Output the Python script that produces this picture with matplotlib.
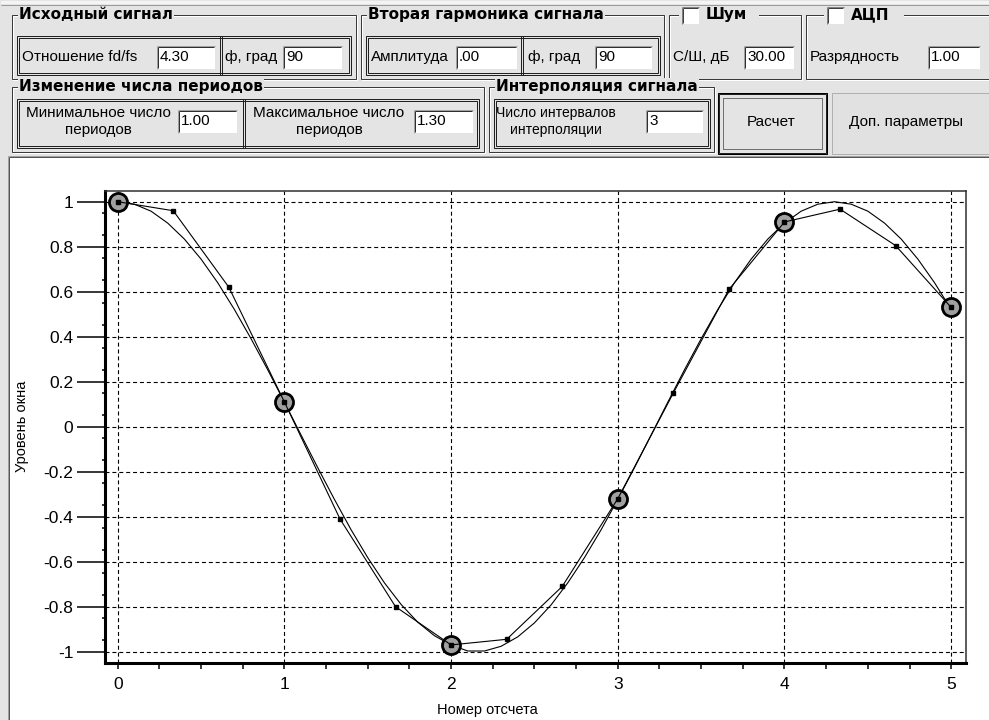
import matplotlib
matplotlib.use('Agg')
import matplotlib.pyplot as plt
import numpy as np
from matplotlib.patches import Rectangle

plt.rcParams['font.family'] = ['Liberation Sans', 'DejaVu Sans']

# ---------------- data ----------------
# true signal (smooth curve), sampled every 0.1 of a sample index
signal_y = [1.0, 0.989, 0.958, 0.905, 0.834, 0.745, 0.640, 0.521, 0.391, 0.253,
            0.109, -0.037, -0.182, -0.323, -0.458, -0.582, -0.694, -0.790, -0.869, -0.929,
            -0.970, -0.997, -0.997, -0.976, -0.934, -0.872, -0.792, -0.694, -0.582, -0.458,
            -0.323, -0.182, -0.037, 0.109, 0.253, 0.391, 0.521, 0.640, 0.745, 0.834,
            0.905, 0.958, 0.989, 1.0, 0.989, 0.958, 0.905, 0.834, 0.745, 0.640, 0.521]
signal_x = np.linspace(0, 5, len(signal_y))

# samples (big circles)
sample_x = [0, 1, 2, 3, 4, 5]
sample_y = [1.0, 0.11, -0.97, -0.32, 0.91, 0.53]

# interpolated signal (3 intervals per sample)
interp_y = [1.0, 0.96, 0.62, 0.11, -0.41, -0.80, -0.97, -0.945, -0.71, -0.32,
            0.15, 0.61, 0.91, 0.967, 0.805, 0.53]
interp_x = np.arange(len(interp_y)) / 3.0

xticks = [0, 1, 2, 3, 4, 5]
yticks = [-1, -0.8, -0.6, -0.4, -0.2, 0, 0.2, 0.4, 0.6, 0.8, 1]
ytick_labels = ['-1', '-0.8', '-0.6', '-0.4', '-0.2', '0', '0.2', '0.4', '0.6', '0.8', '1']
xlabel = 'Номер отсчета'
ylabel = 'Уровень окна'

# ---------------- figure ----------------
W, H = 989, 720
BG = '#e4e4e4'
DARK = '#3a3a3a'
PX = 0.72  # points per pixel at dpi 100

fig = plt.figure(figsize=(W / 100, H / 100), dpi=100, facecolor=BG)
gui = fig.add_axes([0, 0, 1, 1])
gui.set_xlim(0, W)
gui.set_ylim(H, 0)
gui.axis('off')
gui.set_facecolor(BG)

FS = 11
FSB = 11
BOLDFAM = ['DejaVu Sans']


def line(xs, ys, c, lw=1, ls='-', z=2):
    gui.plot([x + 0.5 for x in xs], [y + 0.5 for y in ys], color=c, lw=lw * PX, ls=ls,
             solid_capstyle='butt', zorder=z)


def box(x0, y0, x1, y1, ec='none', fc='none', lw=1, z=2, ls='-'):
    gui.add_patch(Rectangle((x0 + 0.5, y0 + 0.5), x1 - x0, y1 - y0,
                            facecolor=fc, edgecolor=ec, lw=lw * PX, zorder=z, ls=ls,
                            fill=(fc != 'none')))


def text(x, y, s, ha='left', fs=None, z=5):
    gui.text(x, y, s, ha=ha, va='center', fontsize=fs or FS, color='black', zorder=z)


def btitle(x, y, s, bbox=True):
    kw = {}
    if bbox:
        kw['bbox'] = dict(boxstyle='square,pad=0.08', fc=BG, ec='none')
    gui.text(x, y, s, ha='left', va='center', fontsize=FSB, fontweight='bold',
             family=BOLDFAM, zorder=5, **kw)


def groupbox(x0, y0, x1, y1, title, tx, check=None):
    box(x0, y0, x1 - 1, y1 - 1, ec=DARK)
    box(x0 + 1, y0 + 1, x1, y1, ec='white', z=1.9)
    if check is None:
        btitle(tx, y0 + 0.5, title)
    else:
        cx = check
        box(cx - 3, y0 - 9, tx + 52, y0 + 8, fc=BG, z=3)
        box(cx, y0 - 8, cx + 17, y0 + 9, fc='white', ec='none', z=4)
        line([cx, cx + 17], [y0 - 8, y0 - 8], '#808080', z=4.5)
        line([cx, cx], [y0 - 8, y0 + 9], '#808080', z=4.5)
        line([cx + 1, cx + 16], [y0 - 7, y0 - 7], '#404040', z=4.5)
        line([cx + 1, cx + 1], [y0 - 7, y0 + 8], '#404040', z=4.5)
        btitle(tx, y0 + 0.5, title, bbox=False)


def dbox(x0, y0, x1, y1):
    box(x0, y0, x1, y1, ec='#202020')
    box(x0 + 2, y0 + 2, x1 - 2, y1 - 2, ec='#202020')


def vsep(x, y0, y1):
    line([x, x], [y0, y1], '#202020')
    line([x + 2, x + 2], [y0, y1], '#202020')


def field(x0, y0, x1, y1, s):
    box(x0, y0, x1, y1, fc='white', z=3)
    line([x0, x1], [y0, y0], '#a0a0a0', z=3.5)
    line([x0, x0], [y0, y1], '#a0a0a0', z=3.5)
    line([x0 + 1, x1 - 1], [y0 + 1, y0 + 1], '#303030', z=3.5)
    line([x0 + 1, x0 + 1], [y0 + 1, y1 - 1], '#303030', z=3.5)
    text(x0 + 4, (y0 + y1) / 2 + 0.5, s)


# top strip
box(0, 0, W, 3, fc='#f4f4f4', z=1)
line([0, W], [4, 4], '#9a9a9a')

# ---- row 1 ----
groupbox(11, 14, 356, 79, 'Исходный сигнал', 19)
dbox(16, 35, 350, 74)
vsep(219, 35, 74)
text(22, 57, 'Отношение fd/fs')
field(156, 45, 214, 68, '4.30')
text(225, 57, 'ф, град')
field(282, 45, 341, 68, '90')

groupbox(360, 14, 664, 79, 'Вторая гармоника сигнала', 368)
dbox(365, 35, 659, 74)
vsep(520, 35, 74)
text(371, 57, 'Амплитуда')
field(455, 45, 516, 68, '.00')
text(528, 57, 'ф, град')
field(594, 45, 651, 68, '90')

groupbox(668, 14, 801, 79, 'Шум', 706, check=681)
text(673, 57, 'С/Ш, дБ')
field(743, 45, 793, 68, '30.00')

groupbox(805, 14, W + 3, 79, 'АЦП', 851, check=826)
text(810, 57, 'Разрядность')
field(927, 45, 979, 68, '1.00')

# ---- row 2 ----
groupbox(11, 86, 484, 152, 'Изменение числа периодов', 19)
dbox(16, 98, 478, 147)
vsep(242, 98, 147)
text(98, 113, 'Минимальное число', ha='center')
text(98, 130, 'периодов', ha='center')
field(177, 109, 236, 132, '1.00')
text(329, 113, 'Максимальное число', ha='center')
text(329, 130, 'периодов', ha='center')
field(413, 109, 472, 132, '1.30')

groupbox(488, 86, 714, 152, 'Интерполяция сигнала', 496)
dbox(493, 98, 709, 147)
text(556, 113, 'Число интервалов', ha='center', fs=10)
text(556, 130, 'интерполяции', ha='center', fs=10)
field(645, 109, 702, 132, '3')

# buttons
box(717, 92, 826, 153, fc=BG, ec='black', lw=1, z=2)
box(718, 93, 825, 152, ec='#202020', lw=1, z=2.1)
box(722, 97, 821, 148, ec='black', lw=1, z=2.2, ls=(0, (1, 1)))
text(771, 122, 'Расчет', ha='center')

box(831, 92, W + 2, 153, fc='#e1e1e1', ec='#b0b0b0', lw=1, z=2)
text(906, 122, 'Доп. параметры', ha='center')

# plot panel
box(8, 156, W + 2, H + 2, fc='white', ec='none', z=1)
line([8, W], [156, 156], '#555555', z=1.5)
line([8, 8], [156, H], '#555555', z=1.5)
line([7, W], [155, 155], '#a0a0a0', z=1.5)
line([7, 7], [155, H], '#a0a0a0', z=1.5)

# ---------------- chart ----------------
L, R, T, B = 105.3, 965.7, 190.7, 662.7
ax = fig.add_axes([L / W, 1 - B / H, (R - L) / W, (B - T) / H])
ax.set_facecolor('white')
ax.set_xlim(-0.0744, 5.087)
ax.set_ylim(-1.049, 1.049)

ax.set_xticks(xticks)
ax.set_xticklabels([str(v) for v in xticks])
ax.set_yticks(yticks)
ax.set_yticklabels(ytick_labels)
ax.set_xticks([v / 4 for v in range(21) if v % 4 != 0], minor=True)
ax.set_yticks([(2 * k + 1) / 20 for k in range(-10, 10)], minor=True)

ax.tick_params(axis='y', which='major', direction='out', length=20, width=1.1, pad=3,
               labelsize=12.5)
ax.tick_params(axis='y', which='minor', direction='out', length=2.5, width=1.1)
ax.tick_params(axis='x', which='major', direction='out', length=4, width=1.1, pad=6.5,
               labelsize=12.5)
ax.tick_params(axis='x', which='minor', direction='out', length=4, width=1.1)

for s in ['left', 'bottom']:
    ax.spines[s].set_linewidth(2.2)
    ax.spines[s].set_color('black')
for s in ['top', 'right']:
    ax.spines[s].set_linewidth(1.1)
    ax.spines[s].set_color('#303030')

ax.grid(True, which='major', color='black', lw=0.8, linestyle=(0, (3.6, 2.6)))
ax.set_axisbelow(True)

ax.plot(signal_x, signal_y, color='black', lw=0.8, zorder=3)
ax.plot(sample_x, sample_y, linestyle='none', marker='o', ms=13, mfc='#a0a0a0',
        mec='black', mew=2.0, zorder=4)
ax.plot(interp_x, interp_y, color='black', lw=0.8, marker='s', ms=2.6, zorder=5)

ax.set_xlabel(xlabel, fontsize=10.5)
ax.set_ylabel(ylabel, fontsize=10.5)
ax.xaxis.set_label_coords((487 - L) / (R - L), (B - 710) / (B - T))
ax.xaxis.label.set_va('center')
ax.yaxis.set_label_coords((22 - L) / (R - L), (B - 426) / (B - T))
ax.yaxis.label.set_va('center')

fig.savefig('out.png', dpi=100, facecolor=BG)
